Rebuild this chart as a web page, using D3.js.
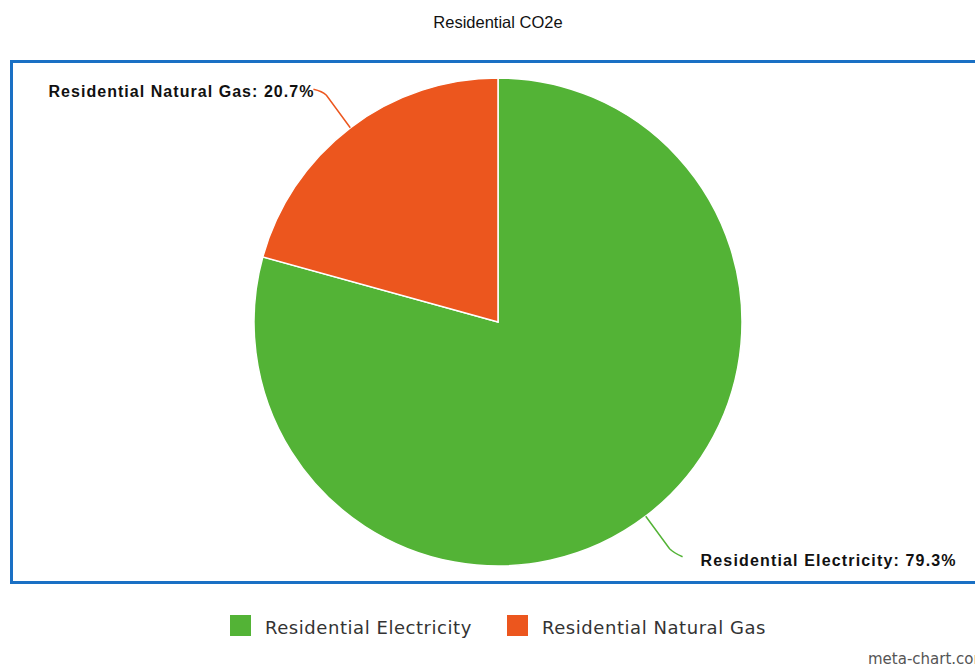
<!DOCTYPE html>
<html><head><meta charset="utf-8">
<script src="https://cdn.jsdelivr.net/npm/d3@7"></script>
<style>body{margin:0;background:#fff}svg{display:block}</style>
</head><body>
<svg id="c" width="975" height="667"></svg>
<script>
const title = "Residential CO2e";
const categories = ["Residential Electricity", "Residential Natural Gas"];
const values = [79.3, 20.7];
const colors = ["#53b336", "#ec561e"];
const watermark = "meta-chart.com";

const svg = d3.select("#c");

svg.append("text").attr("x", 498).attr("y", 28).attr("text-anchor", "middle")
  .attr("font-family", "Liberation Sans, Arial, sans-serif").attr("font-size", 16.5).attr("fill", "#111")
  .text(title);

svg.append("rect").attr("x", 11.5).attr("y", 61.5).attr("width", 980).attr("height", 521)
  .attr("fill", "none").attr("stroke", "#1a70c4").attr("stroke-width", 3);

const cx = 498, cy = 322, r = 244;
const pie = d3.pie().sort(null).value(d => d)(values);
const arc = d3.arc().innerRadius(0).outerRadius(r);
const g = svg.append("g").attr("transform", `translate(${cx},${cy})`);
g.selectAll("path").data(pie).join("path").attr("d", arc)
  .attr("fill", (d, i) => colors[i]).attr("stroke", "#fff").attr("stroke-width", 1.5);

const total = d3.sum(values);
const labelWidths = [255, 265];
pie.forEach((d, i) => {
  const a = (d.startAngle + d.endAngle) / 2;
  const sx = Math.sin(a), sy = -Math.cos(a);
  const p0 = [cx + sx * r, cy + sy * r];
  const right = sx > 0;
  const p1 = [cx + sx * (r + 46), cy + sy * (r + 46)];
  const p2 = [p1[0] + (right ? 9 : -9), p1[1] + (right ? 4 : -2)];
  svg.append("path")
    .attr("d", `M${p0[0]},${p0[1]} L${p1[0] - (right ? 4 : -4)},${p1[1] - (right ? 4 : -4)} Q${p1[0]},${p1[1]} ${p2[0]},${p2[1]}`)
    .attr("fill", "none").attr("stroke", colors[i]).attr("stroke-width", 1.5);
  const pct = (values[i] / total * 100).toFixed(1) + "%";
  svg.append("text")
    .attr("x", right ? p2[0] + 18 : p2[0] - labelWidths[i])
    .attr("y", p2[1] + (right ? 9 : 8))
    .attr("text-anchor", "start")
    .attr("font-family", "Liberation Sans, Arial, sans-serif").attr("font-weight", "bold")
    .attr("font-size", 16).attr("textLength", labelWidths[i]).attr("lengthAdjust", "spacing")
    .attr("fill", "#111")
    .text(categories[i] + ": " + pct);
});

const legX = [230, 507];
categories.forEach((c, i) => {
  svg.append("rect").attr("x", legX[i]).attr("y", 615).attr("width", 21).attr("height", 21).attr("fill", colors[i]);
  svg.append("text").attr("x", legX[i] + 35).attr("y", 634)
    .attr("font-family", "DejaVu Sans, sans-serif").attr("font-size", 18).attr("letter-spacing", 0.55).attr("fill", "#333")
    .text(c);
});

svg.append("text").attr("x", 868).attr("y", 664)
  .attr("font-family", "DejaVu Sans, sans-serif").attr("font-size", 15).attr("fill", "#555")
  .text(watermark);
</script>
</body></html>
